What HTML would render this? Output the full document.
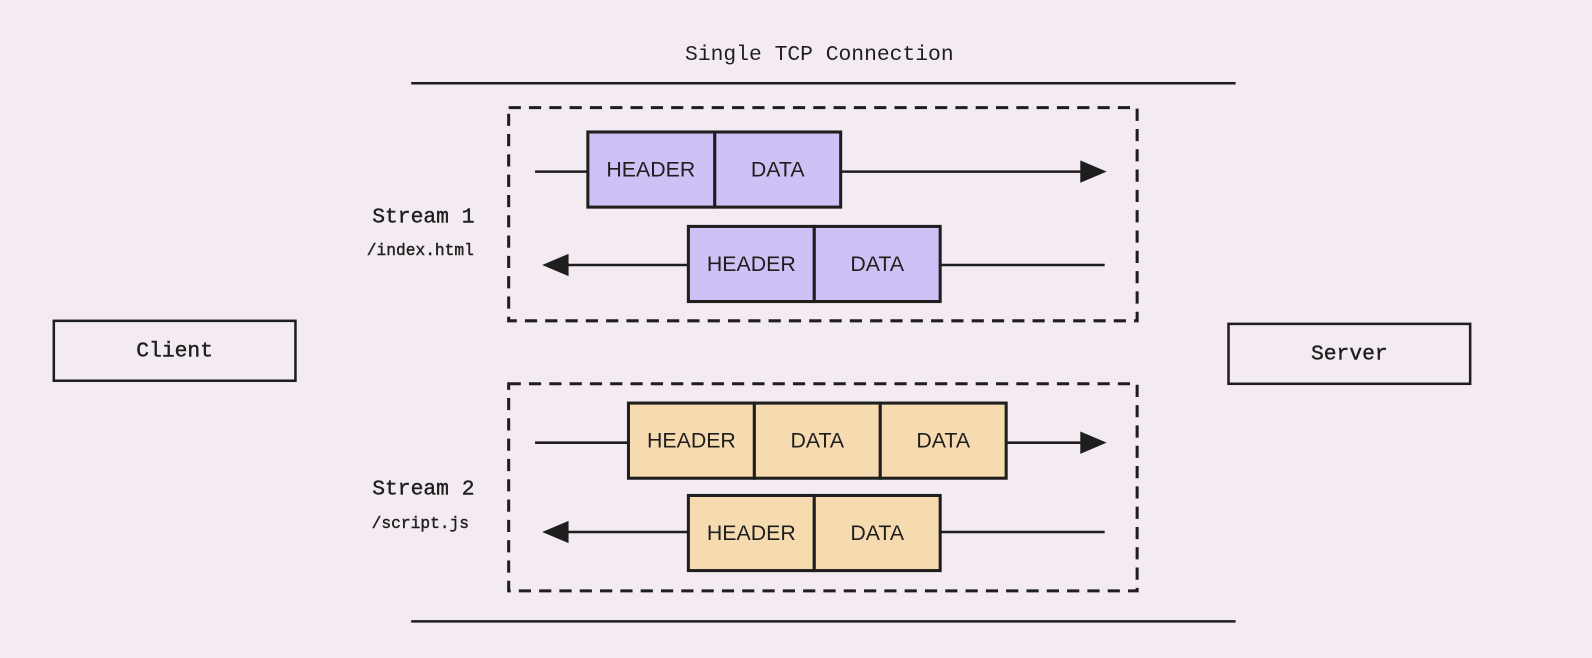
<!DOCTYPE html>
<html><head><meta charset="utf-8"><style>
html,body{margin:0;padding:0;background:#f3ebf1;}
svg{display:block}
.m{font-family:"Liberation Mono",monospace;fill:#1e1e1e}
.s{font-family:"Liberation Sans",sans-serif;fill:#1e1e1e;font-size:21px}
</style></head><body>
<svg width="1592" height="658" viewBox="0 0 1592 658" xmlns="http://www.w3.org/2000/svg">
<rect width="1592" height="658" fill="#f3ebf1"/>
<g transform="scale(1.0153)">
<text class="m" x="807" y="59" font-size="21" text-anchor="middle">Single TCP Connection</text>
<g stroke="#1e1e1e" stroke-width="2.5" fill="none">
<line x1="405" y1="82" x2="1217" y2="82"/>
<line x1="405" y1="612" x2="1217" y2="612"/>
<rect x="501" y="106" width="619" height="210" stroke-dasharray="12 8" stroke-width="3"/>
<rect x="501" y="378" width="619" height="204" stroke-dasharray="12 8" stroke-width="3"/>
<rect x="53" y="316" width="238" height="59"/>
<rect x="1210" y="319" width="238" height="59"/>
<line x1="527" y1="169" x2="579" y2="169"/><line x1="828" y1="169" x2="1070" y2="169"/>
<line x1="550" y1="261" x2="678" y2="261"/><line x1="926" y1="261" x2="1088" y2="261"/>
<line x1="527" y1="436" x2="619" y2="436"/><line x1="991" y1="436" x2="1070" y2="436"/>
<line x1="550" y1="524" x2="678" y2="524"/><line x1="926" y1="524" x2="1088" y2="524"/>
</g>
<g fill="#1e1e1e">
<polygon points="1064,158 1090,169 1064,180"/>
<polygon points="560,250 534,261 560,272"/>
<polygon points="1064,425 1090,436 1064,447"/>
<polygon points="560,513 534,524 560,535"/>
</g>
<g stroke="#1e1e1e" stroke-width="3">
<rect x="579" y="130" width="125" height="74" fill="#cfc0f5"/><rect x="704" y="130" width="124" height="74" fill="#cfc0f5"/>
<rect x="678" y="223" width="124" height="74" fill="#cfc0f5"/><rect x="802" y="223" width="124" height="74" fill="#cfc0f5"/>
<rect x="619" y="397" width="124" height="74" fill="#f7dbb0"/><rect x="743" y="397" width="124" height="74" fill="#f7dbb0"/><rect x="867" y="397" width="124" height="74" fill="#f7dbb0"/>
<rect x="678" y="488" width="124" height="74" fill="#f7dbb0"/><rect x="802" y="488" width="124" height="74" fill="#f7dbb0"/>
</g>
<g class="s" text-anchor="middle">
<text x="641" y="174">HEADER</text><text x="766" y="174">DATA</text>
<text x="740" y="267">HEADER</text><text x="864" y="267">DATA</text>
<text x="681" y="441">HEADER</text><text x="805" y="441">DATA</text><text x="929" y="441">DATA</text>
<text x="740" y="532">HEADER</text><text x="864" y="532">DATA</text>
</g>
<g class="m" text-anchor="middle" stroke="#1e1e1e" stroke-width="0.4">
<text x="172" y="351" font-size="21">Client</text>
<text x="1329" y="354" font-size="21">Server</text>
<text x="417" y="219" font-size="21">Stream 1</text>
<text x="414" y="251" font-size="16">/index.html</text>
<text x="417" y="487" font-size="21">Stream 2</text>
<text x="414" y="520" font-size="16">/script.js</text>
</g>
</g>
</svg>
</body></html>
